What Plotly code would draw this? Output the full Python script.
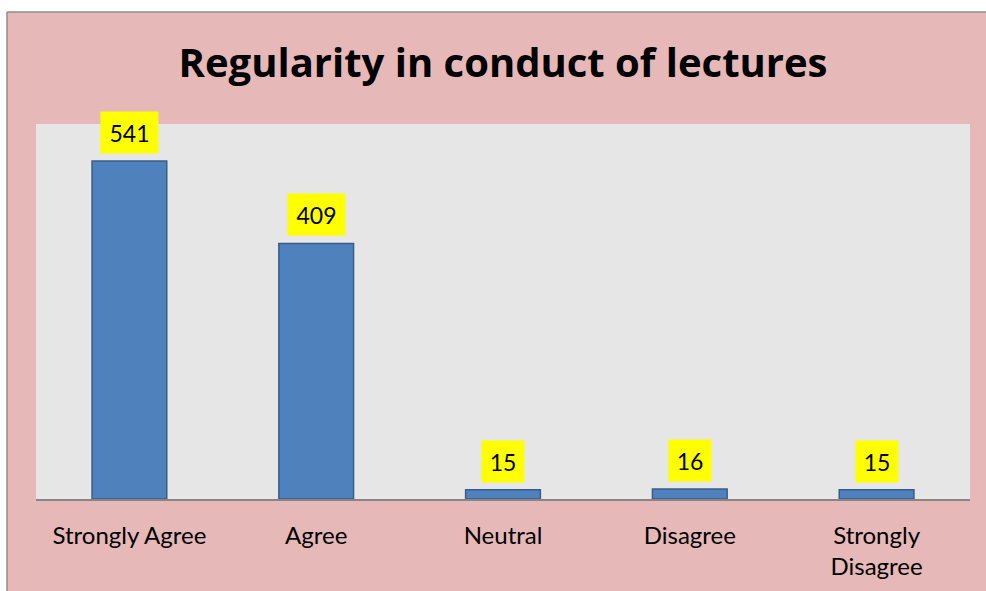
import plotly.graph_objects as go

categories = ["Strongly Agree", "Agree", "Neutral", "Disagree", "Strongly Disagree"]
tick_labels = ["Strongly Agree", "Agree", "Neutral", "Disagree", "Strongly<br>Disagree"]
values = [541, 409, 15, 16, 15]
title_text = "Regularity in conduct of lectures"

W, H = 986, 591
ML, MT = 36, 124
pw, ph = 934, 375
MR = W - ML - pw
MB = H - MT - ph

fig = go.Figure()
fig.add_trace(go.Bar(
    x=categories, y=values,
    marker=dict(color="#4F81BD", line=dict(color="#385D8A", width=1.5)),
    width=0.4,
    hoverinfo="skip",
))

for c, v in zip(categories, values):
    s = str(v)
    fig.add_annotation(
        x=c, y=v, xref="x", yref="y", text=s, showarrow=False,
        yanchor="bottom", yshift=7,
        bgcolor="#FFFF00", borderpad=0,
        width=57 if len(s) >= 3 else 42, height=41,
        font=dict(family="Lato, Open Sans, sans-serif", size=23, color="#000000"),
    )

# white margins and gray border of the chart frame
x_left = (7 - ML) / pw
y_top = (H - MB - 12) / ph
fig.add_shape(type="rect", xref="paper", yref="paper", x0=-0.2, x1=1.2, y0=y_top, y1=1.6,
              fillcolor="white", line=dict(width=0), layer="above")
fig.add_shape(type="rect", xref="paper", yref="paper", x0=-0.2, x1=x_left, y0=-0.5, y1=1.6,
              fillcolor="white", line=dict(width=0), layer="above")
fig.add_shape(type="line", xref="paper", yref="paper", x0=x_left, x1=1.2, y0=y_top, y1=y_top,
              line=dict(color="#8C8C8C", width=1.5), layer="above")
fig.add_shape(type="line", xref="paper", yref="paper", x0=x_left, x1=x_left, y0=-0.5, y1=y_top,
              line=dict(color="#8C8C8C", width=1.5), layer="above")

fig.update_layout(
    width=W, height=H,
    margin=dict(l=ML, r=MR, t=MT, b=MB, pad=0, autoexpand=False),
    paper_bgcolor="#E6B8B7",
    plot_bgcolor="#E6E6E6",
    showlegend=False,
    title=dict(
        text="<b>" + title_text + "</b>",
        x=503 / W, xanchor="center", xref="container",
        y=1 - 63 / H, yanchor="middle", yref="container",
        font=dict(family="Open Sans, Lato, sans-serif", size=40, color="#000000"),
    ),
    xaxis=dict(
        tickmode="array", tickvals=categories, ticktext=tick_labels,
        showline=True, linecolor="#868686", linewidth=2,
        showgrid=False, ticks="", ticklabelstandoff=14, automargin=False,
        tickfont=dict(family="Lato, Open Sans, sans-serif", size=24, color="#000000"),
        fixedrange=True,
    ),
    yaxis=dict(
        range=[0, 600], showgrid=False, showticklabels=False, zeroline=False,
        showline=False, ticks="", fixedrange=True, automargin=False,
    ),
)

fig.write_html(
    "out.html",
    config={"displayModeBar": False, "staticPlot": True},
    post_script="document.body.style.margin='0';document.body.style.overflow='hidden';",
)
